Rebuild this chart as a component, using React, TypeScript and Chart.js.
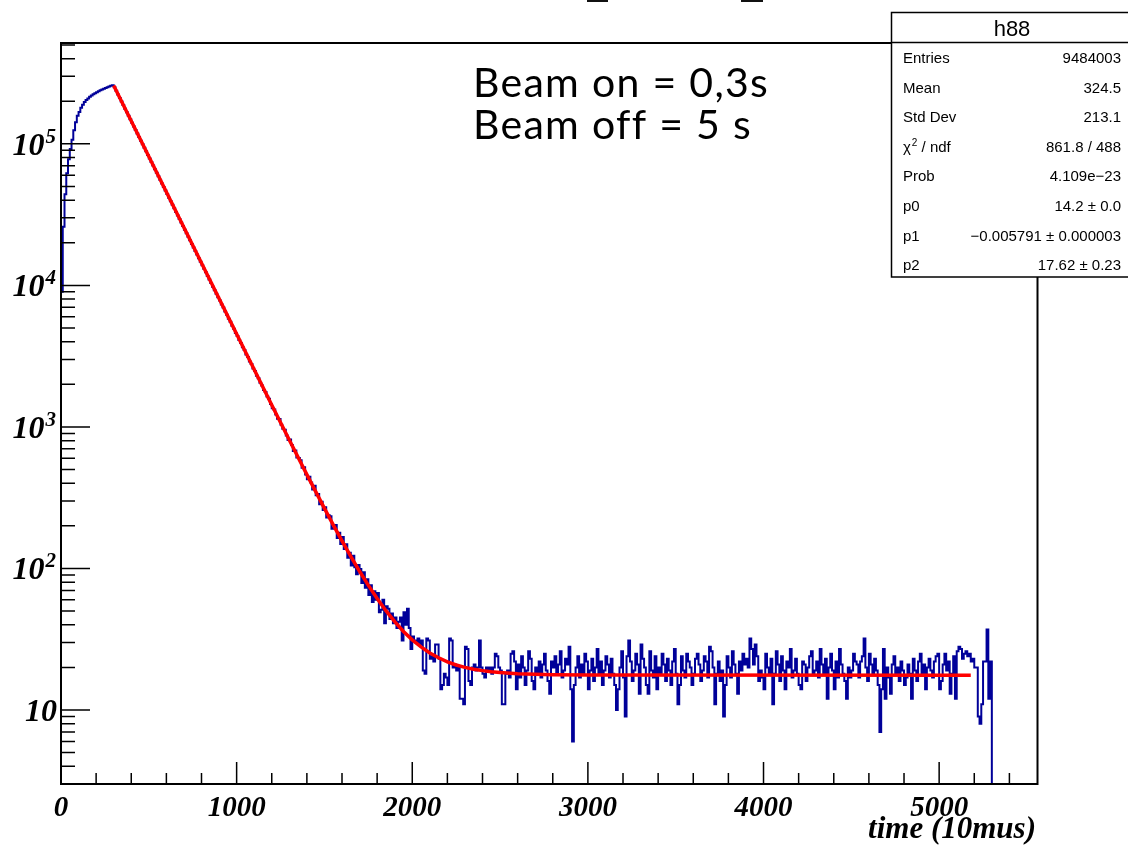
import React, { useEffect, useRef } from 'react';
import { Chart, registerables } from 'chart.js';

Chart.register(...registerables);

// ---------- DATA ----------
const BIN_WIDTH = 10; // time units per histogram bin
const HIST_END = 5300; // upper edge of last filled bin

// bins 0..29 (0 - 300): beam on, build-up
const riseCounts = [
  9000, 26000, 44000, 62000, 78000, 92000, 107000, 125000, 142000, 158000,
  168000, 180000, 189000, 198000, 204000, 209000, 215000, 220000, 224000, 228000,
  232000, 235500, 239000, 242000, 245000, 248000, 251000, 254000, 257000, 260000,
];

// bins 30..233 (300 - 2340): decay
const decayCounts = [
  251000, 236900, 223500, 211000, 199100, 187900, 177300, 167400, 157900, 149100, 140700, 132700,
  125300, 118200, 111600, 105300, 99370, 93790, 88510, 83530, 78830, 74400, 70210, 66260,
  62530, 59010, 55690, 52560, 49600, 46810, 44180, 41690, 39350, 37130, 35040, 33070,
  31210, 29450, 27800, 26230, 24760, 23360, 22050, 20810, 19640, 18530, 17490, 16510,
  15580, 14700, 13870, 13090, 12360, 11660, 11010, 10390, 9802, 9250, 8730, 8238,
  7810, 7330, 6968, 6531, 6201, 5812, 5530, 5188, 4931, 4610, 4392, 4117,
  3920, 3662, 3501, 3254, 3118, 2898, 2781, 2590, 2481, 2301, 2212, 2052,
  1965, 1826, 1768, 1641, 1584, 1453, 1356, 1329, 1226, 1143, 1138, 1034,
  970, 955, 869, 810, 815, 746, 676, 682, 608, 604, 581, 514,
  518, 461, 427, 445, 405, 361, 384, 329, 336, 284, 296, 259,
  271, 229, 238, 234, 191, 194, 203, 164, 179, 149, 167, 137,
  148, 119, 129, 105, 123, 102, 91, 106, 99, 79, 94, 73,
  84, 65, 76, 58, 69, 60, 67, 49, 51, 60, 41, 54,
  52, 44, 48, 41, 45, 38, 42, 45, 31, 49, 40, 52,
  38, 27, 33, 31, 30, 32, 29, 31, 19, 18, 32, 31,
  23, 24, 22, 29, 29, 23, 14, 15, 18, 17, 15, 32,
  31, 20, 21, 19, 20, 12, 12, 11, 28, 27, 16, 15,
];

// bins 234..529 (2340 - 5300): flat background
const flatCounts = [
  20, 21, 19, 20, 31, 20, 18, 17, 20, 19, 20, 18, 20, 25, 24, 20, 19, 11, 11, 18,
  19, 17, 25, 26, 22, 14, 21, 17, 24, 20, 15, 19, 26, 23, 16, 14, 20, 18, 22, 17,
  21, 25, 19, 16, 13, 22, 20, 24, 18, 21, 26, 17, 19, 23, 21, 28, 14, 6, 15, 20,
  24, 17, 21, 18, 25, 22, 14, 19, 23, 16, 20, 27, 18, 22, 15, 19, 24, 21, 17, 23,
  18, 15, 10, 14, 20, 26, 17, 9, 24, 31, 22, 16, 19, 25, 21, 13, 29, 23, 20, 15,
  13, 26, 19, 17, 24, 14, 20, 18, 25, 21, 16, 23, 19, 15, 22, 27, 18, 11, 15, 24,
  19, 17, 25, 22, 20, 15, 18, 23, 25, 21, 16, 19, 24, 22, 17, 28, 26, 20, 11, 18,
  22, 16, 19, 9, 15, 24, 20, 17, 26, 21, 18, 13, 22, 19, 25, 21, 23, 20, 32, 27,
  21, 29, 24, 16, 19, 17, 14, 25, 20, 18, 23, 11, 18, 26, 21, 16, 24, 19, 14, 22,
  20, 27, 17, 19, 23, 18, 15, 14, 22, 21, 16, 20, 24, 26, 18, 19, 22, 17, 27, 21,
  18, 23, 12, 20, 25, 19, 14, 22, 17, 27, 21, 18, 16, 12, 20, 17, 19, 25, 22, 21,
  17, 22, 24, 32, 20, 16, 25, 21, 18, 23, 19, 15, 7, 14, 27, 12, 20, 17, 13, 21,
  24, 18, 20, 16, 22, 19, 15, 17, 21, 18, 12, 23, 19, 16, 22, 25, 18, 21, 14, 20,
  23, 19, 17, 22, 24, 25, 14, 16, 21, 25, 19, 22, 13, 18, 24, 12, 26, 28, 27, 23,
  25, 26, 24, 25, 22, 23, 20, 20, 9, 8, 11, 22, 22, 37, 12, 22,
];

// fitted curve (red)
const fitX = [300, 1200, 1300, 1400, 1500, 1550, 1600, 1650, 1700, 1750, 1800, 1850, 1900, 1950, 2000,
  2050, 2100, 2150, 2200, 2250, 2300, 2350, 2400, 2450, 2500, 2600, 2700, 2800, 3000, 5180];
const fitY = [258400, 1428, 808, 460.5, 265.6, 203.3, 156.6, 121.7, 95.5, 75.9, 61.3, 50.3, 42.1, 35.9, 31.3,
  27.9, 25.3, 23.4, 21.9, 20.8, 20.0, 19.4, 18.97, 18.6, 18.38, 18.05, 17.86, 17.75, 17.66, 17.62];

// axes
const X_MIN = 0;
const X_MAX = 5560;
const Y_MIN = 3;
const Y_MAX = 516000;
const xMajorTicks = [0, 1000, 2000, 3000, 4000, 5000];
const xTickLabels = ['0', '1000', '2000', '3000', '4000', '5000'];
const X_MINOR_STEP = 200;
const yDecadeExponents = [1, 2, 3, 4, 5];
const xAxisTitle = 'time (10mus)';

// stats box
const statsTitle = 'h88';
const statsNames = ['Entries', 'Mean', 'Std Dev', 'χ² / ndf', 'Prob', 'p0', 'p1', 'p2'];
const statsValues = ['9484003', '324.5', '213.1', '861.8 / 488', '4.109e\u221223', '14.2 \u00b1 0.0',
  '\u22120.005791 \u00b1 0.000003', '17.62 \u00b1 0.23'];

// annotation
const noteLines = ['Beam on = 0,3s', 'Beam off = 5 s'];

// ---------- DRAWING ----------
const SERIF_BI = '"Liberation Serif", "DejaVu Serif", serif';
const SANS = '"Liberation Sans", Arial, sans-serif';

const rootPlugin = {
  id: 'rootDecor',
  afterDraw(chart: any) {
    const ctx: CanvasRenderingContext2D = chart.ctx;
    const { left, right, top, bottom } = chart.chartArea;
    const xs = chart.scales.x;
    const ys = chart.scales.y;
    ctx.save();
    ctx.strokeStyle = '#000';
    ctx.fillStyle = '#000';

    // ticks
    ctx.lineWidth = 1.5;
    ctx.beginPath();
    for (let v = X_MIN; v <= X_MAX; v += X_MINOR_STEP) {
      const px = xs.getPixelForValue(v);
      const len = v % 1000 === 0 ? 22 : 11;
      ctx.moveTo(px, bottom);
      ctx.lineTo(px, bottom - len);
    }
    for (let e = 0; e <= 5; e++) {
      for (let m = 1; m <= 9; m++) {
        const v = m * Math.pow(10, e);
        if (v < Y_MIN || v > Y_MAX) continue;
        const py = ys.getPixelForValue(v);
        const len = m === 1 ? 29 : 14;
        ctx.moveTo(left, py);
        ctx.lineTo(left + len, py);
      }
    }
    ctx.stroke();

    // frame
    ctx.lineWidth = 2;
    ctx.strokeRect(left, top, right - left, bottom - top);

    // x labels
    ctx.font = `italic bold 29px ${SERIF_BI}`;
    ctx.textAlign = 'center';
    ctx.textBaseline = 'alphabetic';
    xMajorTicks.forEach((v, i) => {
      ctx.fillText(xTickLabels[i], xs.getPixelForValue(v), 816);
    });

    // x title
    ctx.font = `italic bold 31px ${SERIF_BI}`;
    ctx.textAlign = 'right';
    ctx.fillText(xAxisTitle, 1036, 838);

    // y labels
    const labelRight = 56;
    yDecadeExponents.forEach((e) => {
      const py = ys.getPixelForValue(Math.pow(10, e));
      ctx.textAlign = 'left';
      ctx.font = `italic bold 32px ${SERIF_BI}`;
      const base = '10';
      const wBase = ctx.measureText(base).width;
      if (e === 1) {
        ctx.fillText(base, labelRight + 1 - wBase, py + 11);
      } else {
        ctx.font = `italic bold 21px ${SERIF_BI}`;
        const sup = String(e);
        const wSup = ctx.measureText(sup).width;
        const x0 = labelRight - wBase - wSup - 1;
        ctx.font = `italic bold 32px ${SERIF_BI}`;
        ctx.fillText(base, x0, py + 11);
        ctx.font = `italic bold 21px ${SERIF_BI}`;
        ctx.fillText(sup, x0 + wBase + 1, py - 1);
      }
    });

    // clipped title fragments at the very top
    ctx.fillStyle = '#111';
    ctx.fillRect(587, 0, 21, 2);
    ctx.fillRect(741, 0, 22, 2);

    // annotation
    ctx.fillStyle = '#000';
    ctx.textAlign = 'left';
    ctx.font = '41px Lato, "Open Sans", sans-serif';
    (ctx as any).letterSpacing = '1.3px';
    ctx.fillText(noteLines[0], 473, 97);
    ctx.fillText(noteLines[1], 473, 139);
    (ctx as any).letterSpacing = '0px';

    // stats box
    const bx = 891.5, by = 12.5, bw = 241, bh = 264.5;
    ctx.fillStyle = '#fff';
    ctx.fillRect(bx, by, bw, bh);
    ctx.lineWidth = 1.5;
    ctx.strokeStyle = '#000';
    ctx.strokeRect(bx, by, bw, bh);
    ctx.beginPath();
    ctx.moveTo(bx, 42.5);
    ctx.lineTo(bx + bw, 42.5);
    ctx.stroke();
    ctx.fillStyle = '#000';
    ctx.font = `22px ${SANS}`;
    ctx.textAlign = 'center';
    ctx.fillText(statsTitle, bx + bw / 2, 36);
    const rowStep = 29.6;
    statsNames.forEach((name, i) => {
      const yb = 63 + i * rowStep;
      ctx.font = `15px ${SANS}`;
      ctx.textAlign = 'left';
      const supIdx = name.indexOf('²');
      if (supIdx >= 0) {
        const a = name.slice(0, supIdx);
        const b = name.slice(supIdx + 1);
        ctx.fillText(a, 903, yb);
        const wa = ctx.measureText(a).width;
        ctx.font = `10px ${SANS}`;
        ctx.fillText('2', 903 + wa + 1, yb - 6);
        const w2 = ctx.measureText('2').width;
        ctx.font = `15px ${SANS}`;
        ctx.fillText(b, 903 + wa + 1 + w2, yb);
      } else {
        ctx.fillText(name, 903, yb);
      }
      ctx.textAlign = 'right';
      ctx.fillText(statsValues[i], 1121, yb);
    });

    ctx.restore();
  },
};

export default function App() {
  const ref = useRef<HTMLCanvasElement>(null);
  useEffect(() => {
    const allCounts = [...riseCounts, ...decayCounts, ...flatCounts];
    const histData = allCounts.map((c, i) => ({ x: X_MIN + i * BIN_WIDTH, y: c }));
    histData.push({ x: HIST_END, y: 0.5 });
    const fitData = fitX.map((x, i) => ({ x, y: fitY[i] }));
    const chart = new Chart(ref.current as HTMLCanvasElement, {
      type: 'line',
      data: {
        datasets: [
          { data: fitData, borderColor: '#ff0000', borderWidth: 3.5, pointRadius: 0, fill: false, tension: 0 } as any,
          { data: histData, borderColor: '#000099', borderWidth: 2, pointRadius: 0, fill: false, stepped: 'before' } as any,
        ],
      },
      options: {
        animation: false,
        responsive: false,
        events: [],
        layout: { padding: { left: 61, top: 43, right: 90.5, bottom: 64 } },
        scales: {
          x: { type: 'linear', min: X_MIN, max: X_MAX, display: false },
          y: { type: 'logarithmic', min: Y_MIN, max: Y_MAX, display: false },
        },
        plugins: { legend: { display: false }, tooltip: { enabled: false } },
      } as any,
      plugins: [rootPlugin],
    });
    return () => chart.destroy();
  }, []);
  return (
    <div style={{ position: 'absolute', left: 0, top: 0, width: 1128, height: 848, background: '#fff' }}>
      <canvas ref={ref} width={1128} height={848} style={{ display: 'block' }} />
    </div>
  );
}
